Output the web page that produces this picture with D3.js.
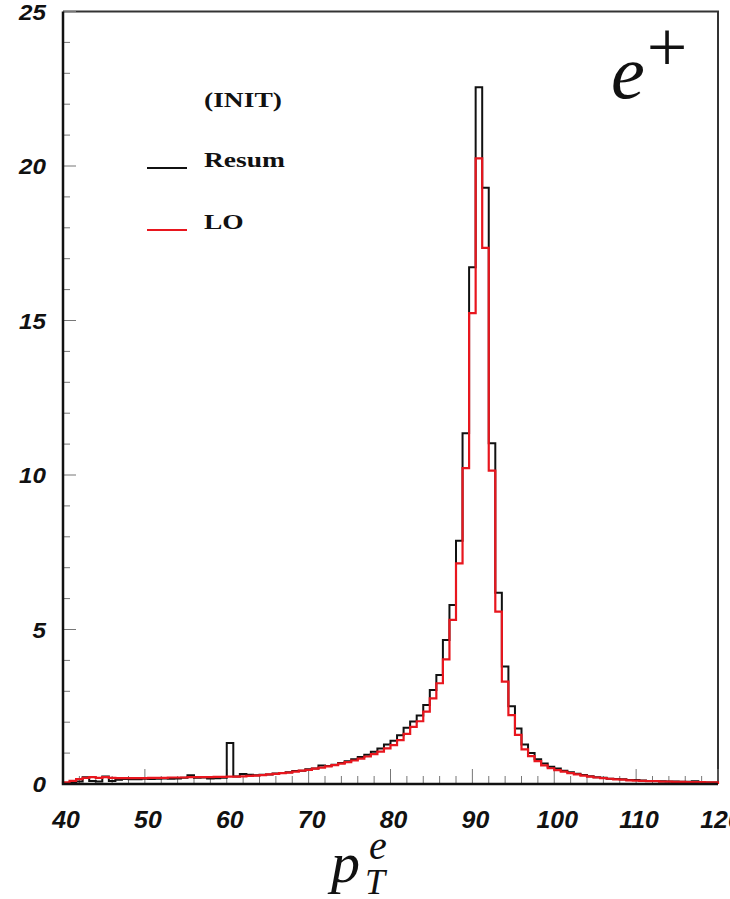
<!DOCTYPE html>
<html>
<head>
<meta charset="utf-8">
<script src="https://cdn.jsdelivr.net/npm/d3@7"></script>
<style>
  html, body { margin: 0; padding: 0; background: #fff; }
  svg { display: block; }
</style>
</head>
<body>
<svg id="chart" width="730" height="899"></svg>
<script>
// p_T^e spectrum of the positron: 100 bins of 0.8 GeV from 40 to 120
const binLow = 40;
const binWidth = 0.8;

// Resummed prediction (INIT)
const resum = [
  0.02, 0.05, 0.08, 0.22, 0.10, 0.08, 0.24, 0.10, 0.14, 0.16,
  0.15, 0.15, 0.17, 0.16, 0.17, 0.18, 0.17, 0.18, 0.20, 0.28,
  0.20, 0.21, 0.18, 0.19, 0.20, 1.33, 0.24, 0.32, 0.30, 0.28,
  0.30, 0.31, 0.34, 0.36, 0.38, 0.42, 0.43, 0.48, 0.50, 0.60,
  0.58, 0.62, 0.68, 0.74, 0.80, 0.87, 0.95, 1.04, 1.15, 1.28,
  1.40, 1.58, 1.82, 2.02, 2.22, 2.56, 3.04, 3.53, 4.66, 5.79,
  7.87, 11.35, 16.72, 22.55, 19.30, 11.03, 6.19, 3.80, 2.52, 1.80,
  1.28, 1.00, 0.80, 0.66, 0.56, 0.50, 0.43, 0.38, 0.33, 0.29,
  0.25, 0.22, 0.20, 0.17, 0.16, 0.15, 0.13, 0.13, 0.11, 0.10,
  0.10, 0.09, 0.08, 0.08, 0.07, 0.07, 0.09, 0.06, 0.05, 0.05
];

// Leading-order prediction
const lo = [
  0.05, 0.10, 0.16, 0.20, 0.22, 0.20, 0.22, 0.20, 0.19, 0.19,
  0.19, 0.19, 0.19, 0.20, 0.20, 0.20, 0.21, 0.21, 0.21, 0.22,
  0.22, 0.22, 0.22, 0.23, 0.23, 0.24, 0.24, 0.25, 0.26, 0.27,
  0.29, 0.31, 0.33, 0.35, 0.37, 0.40, 0.43, 0.46, 0.50, 0.53,
  0.57, 0.61, 0.66, 0.71, 0.76, 0.82, 0.89, 0.97, 1.05, 1.15,
  1.26, 1.42, 1.62, 1.85, 2.03, 2.34, 2.77, 3.26, 4.03, 5.31,
  7.14, 10.22, 15.24, 20.25, 17.35, 10.14, 5.58, 3.31, 2.23, 1.59,
  1.12, 0.90, 0.74, 0.60, 0.51, 0.45, 0.40, 0.35, 0.31, 0.27,
  0.24, 0.21, 0.19, 0.17, 0.15, 0.14, 0.12, 0.11, 0.10, 0.09,
  0.09, 0.08, 0.08, 0.07, 0.07, 0.06, 0.06, 0.06, 0.05, 0.05
];

const xTickLabels = [40, 50, 60, 70, 80, 90, 100, 110, 120];
const yTickLabels = [0, 5, 10, 15, 20, 25];
const legendEntries = [
  { label: "Resum", color: "#111111" },
  { label: "LO", color: "#e8161e" }
];

const svg = d3.select("#chart");
const plotL = 63, plotR = 718, plotT = 11.5, plotB = 784;

const x = d3.scaleLinear().domain([40, 120]).range([plotL, plotR]);
const y = d3.scaleLinear().domain([0, 25]).range([plotB, plotT]);

// frame (top and right edges)
svg.append("path")
  .attr("d", `M${plotL},${plotT}H${plotR}V${plotB}`)
  .attr("fill", "none").attr("stroke", "#333").attr("stroke-width", 2);

// minor and major ticks, drawn inside the frame
const xMinor = d3.range(40, 120.01, 2);
svg.append("g").selectAll("line").data(xMinor).join("line")
  .attr("x1", d => x(d)).attr("x2", d => x(d))
  .attr("y1", plotB)
  .attr("y2", d => plotB - (d % 10 === 0 ? 15 : 8))
  .attr("stroke", "#777").attr("stroke-width", 1);

const yMinor = d3.range(0, 25.01, 1);
svg.append("g").selectAll("line").data(yMinor).join("line")
  .attr("y1", d => y(d)).attr("y2", d => y(d))
  .attr("x1", plotL)
  .attr("x2", d => plotL + (d % 5 === 0 ? 13 : 7))
  .attr("stroke", "#777").attr("stroke-width", 1);

// histogram outlines
function stepPath(vals) {
  let d = `M${x(binLow)},${y(0)}`;
  vals.forEach((v, i) => {
    const x0 = x(binLow + i * binWidth), x1 = x(binLow + (i + 1) * binWidth);
    d += `L${x0},${y(v)}L${x1},${y(v)}`;
  });
  d += `L${x(binLow + vals.length * binWidth)},${y(0)}`;
  return d;
}

svg.append("path").attr("d", stepPath(resum))
  .attr("fill", "none").attr("stroke", legendEntries[0].color)
  .attr("stroke-width", 2).attr("stroke-linejoin", "miter");
svg.append("path").attr("d", stepPath(lo))
  .attr("fill", "none").attr("stroke", legendEntries[1].color)
  .attr("stroke-width", 2.2).attr("stroke-linejoin", "miter");

// axis lines
svg.append("path")
  .attr("d", `M${plotL},${plotT}V${plotB}H${plotR}`)
  .attr("fill", "none").attr("stroke", "#111").attr("stroke-width", 2.5);

// tick labels
const labelFont = "'Liberation Sans', Arial, Helvetica, sans-serif";
svg.append("g").selectAll("text").data(xTickLabels).join("text")
  .attr("transform", d => `translate(${x(d) + 3},828) scale(1.08,1)`)
  .attr("text-anchor", "middle")
  .attr("font-family", labelFont).attr("font-weight", "bold")
  .attr("font-style", "italic").attr("font-size", 23)
  .attr("fill", "#111")
  .text(d => d);

svg.append("g").selectAll("text").data(yTickLabels).join("text")
  .attr("transform", d => `translate(46,${y(d) + 8}) scale(1.1,1)`)
  .attr("text-anchor", "end")
  .attr("font-family", labelFont).attr("font-weight", "bold")
  .attr("font-style", "italic").attr("font-size", 22)
  .attr("fill", "#111")
  .text(d => d);

// legend
const serif = "'Liberation Serif', 'Times New Roman', serif";
svg.append("text")
  .attr("transform", "translate(204,107) scale(1.25,1)")
  .attr("font-family", serif).attr("font-weight", "bold")
  .attr("font-size", 22).attr("fill", "#111")
  .text("(INIT)");

const legendY = [168, 230];
legendEntries.forEach((e, i) => {
  svg.append("line")
    .attr("x1", 147).attr("x2", 187)
    .attr("y1", legendY[i]).attr("y2", legendY[i])
    .attr("stroke", e.color).attr("stroke-width", 2);
  svg.append("text")
    .attr("transform", `translate(204,${legendY[i] - 1}) scale(1.25,1)`)
    .attr("font-family", serif).attr("font-weight", "bold")
    .attr("font-size", 22).attr("fill", "#111")
    .text(e.label);
});

// particle label e^+
svg.append("text")
  .attr("x", 611).attr("y", 98)
  .attr("font-family", serif).attr("font-style", "italic")
  .attr("font-size", 76).attr("fill", "#111")
  .text("e");
svg.append("text")
  .attr("x", 667).attr("y", 71)
  .attr("text-anchor", "middle")
  .attr("font-family", serif)
  .attr("font-size", 72).attr("fill", "#111")
  .text("+");

// x-axis title p_T^e
svg.append("text")
  .attr("x", 331).attr("y", 882)
  .attr("font-family", serif).attr("font-style", "italic")
  .attr("font-size", 58).attr("fill", "#111")
  .text("p");
svg.append("text")
  .attr("x", 369).attr("y", 859)
  .attr("font-family", serif).attr("font-style", "italic")
  .attr("font-size", 40).attr("fill", "#111")
  .text("e");
svg.append("text")
  .attr("x", 365).attr("y", 894)
  .attr("font-family", serif).attr("font-style", "italic")
  .attr("font-size", 36).attr("fill", "#111")
  .text("T");
</script>
</body>
</html>
